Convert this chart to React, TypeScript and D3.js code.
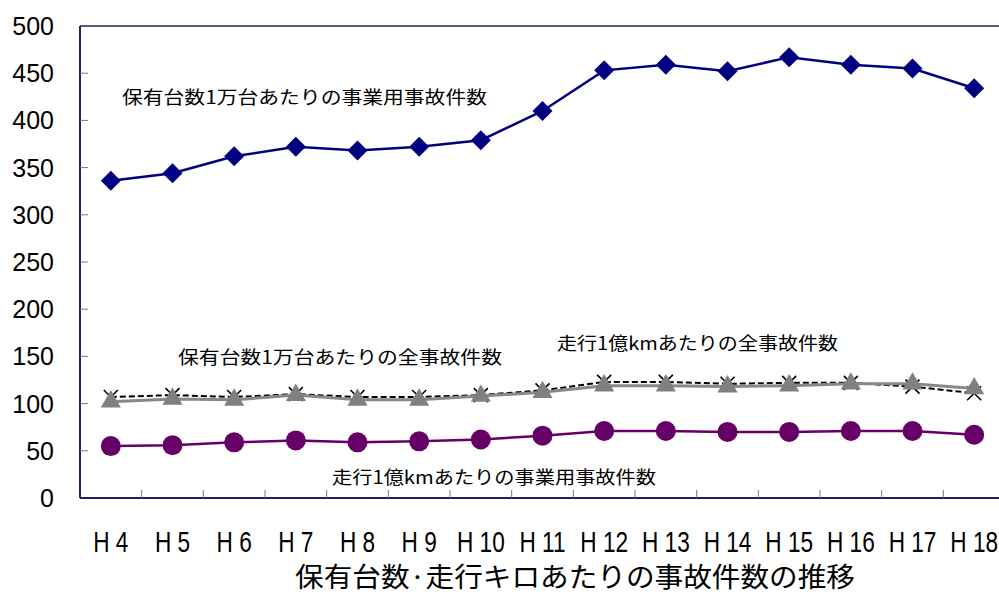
import * as d3 from "d3";

// 年度
const years = ["H4", "H5", "H6", "H7", "H8", "H9", "H10", "H11", "H12", "H13", "H14", "H15", "H16", "H17", "H18"];

// 保有台数1万台あたりの事業用事故件数
const perVehicleBusiness = [336, 344, 362, 372, 368, 372, 379, 410, 453, 459, 452, 467, 459, 455, 434];
// 保有台数1万台あたりの全事故件数
const perVehicleAll = [107, 109, 107, 110, 107, 107, 109, 114, 123, 123, 121, 122, 122, 118, 111];
// 走行1億kmあたりの全事故件数
const perKmAll = [102, 105, 104, 109, 104, 104, 108, 112, 119, 119, 118, 119, 121, 121, 116];
// 走行1億kmあたりの事業用事故件数
const perKmBusiness = [55, 56, 59, 61, 59, 60, 62, 66, 71, 71, 70, 70, 71, 71, 67];

const yTicks = [0, 50, 100, 150, 200, 250, 300, 350, 400, 450, 500];

const W = 999;
const H = 594;
const left = 80;
const right = 1005;
const top = 26;
const bottom = 498;

const jp = "'MS PGothic', 'Noto Sans CJK JP', sans-serif";
const sans = "'Liberation Sans', Arial, sans-serif";
const axisColor = "#22225a";
const squeeze = 0.78;

export default function App() {
    const x = d3.scaleBand<string>().domain(years).range([left, right]);
    const y = d3.scaleLinear().domain([0, 500]).range([bottom, top]);
    const cx = (i: number) => (x(years[i]) || 0) + x.bandwidth() / 2;

    const line = d3.line<number>().x((_, i) => cx(i)).y(d => y(d));

    const diamond = d3.symbol(d3.symbolSquare, 200)();
    const tri = d3.symbol(d3.symbolTriangle, 175)();
    const cross = d3.symbol(d3.symbolX, 130)();

    return (
        <svg width={W} height={H} style={{ position: "absolute", left: 0, top: 0 }}>
            <rect width={W} height={H} fill="#fff" />

            {/* plot frame */}
            <line x1={left} x2={right} y1={top} y2={top} stroke={axisColor} strokeWidth={1.5} />
            <line x1={left} x2={left} y1={top} y2={bottom} stroke={axisColor} strokeWidth={2} />
            <line x1={left} x2={right} y1={bottom} y2={bottom} stroke={axisColor} strokeWidth={2} />

            {/* y ticks */}
            {yTicks.map(t => (
                <g key={t}>
                    {t > 0 && t < 500 && (
                        <line x1={left} x2={left + 8} y1={y(t)} y2={y(t)} stroke="#777" strokeWidth={1} />
                    )}
                    <text x={54} y={y(t)} dy="0.36em" textAnchor="end"
                        fontFamily={sans} fontSize={25} fill="#000">
                        {t}
                    </text>
                </g>
            ))}

            {/* x ticks */}
            {years.slice(1).map(yr => (
                <line key={yr} x1={x(yr)} x2={x(yr)} y1={bottom} y2={bottom - 8} stroke="#777" strokeWidth={1} />
            ))}
            {years.map((yr, i) => (
                <g key={yr} transform={`translate(${cx(i)},552) scale(${squeeze},1)`}>
                    <text x={0} y={0} textAnchor="middle" fontFamily={sans} fontSize={29} fill="#000">
                        {yr.slice(0, 1)}
                        <tspan dx={8}>{yr.slice(1)}</tspan>
                    </text>
                </g>
            ))}

            {/* 全事故件数 (保有台数) */}
            <path d={line(perVehicleAll) || ""} fill="none" stroke="#000" strokeWidth={2} strokeDasharray="6,3" />
            {perVehicleAll.map((v, i) => (
                <path key={i} d={cross || ""} transform={`translate(${cx(i)},${y(v)})`} stroke="#000" strokeWidth={1.6} fill="none" />
            ))}

            {/* 全事故件数 (走行) */}
            <path d={line(perKmAll) || ""} fill="none" stroke="#888" strokeWidth={3} />
            {perKmAll.map((v, i) => (
                <path key={i} d={tri || ""} transform={`translate(${cx(i)},${y(v)})`} fill="#808080" />
            ))}

            {/* 事業用 (走行) */}
            <path d={line(perKmBusiness) || ""} fill="none" stroke="#660066" strokeWidth={2.5} />
            {perKmBusiness.map((v, i) => (
                <circle key={i} cx={cx(i)} cy={y(v)} r={10} fill="#660066" />
            ))}

            {/* 事業用 (保有台数) */}
            <path d={line(perVehicleBusiness) || ""} fill="none" stroke="#000080" strokeWidth={2.5} />
            {perVehicleBusiness.map((v, i) => (
                <path key={i} d={diamond || ""} transform={`translate(${cx(i)},${y(v)}) rotate(45)`} fill="#000080" />
            ))}

            {/* series labels */}
            <text x={122} y={104} fontFamily={jp} fontSize={18} textLength={365} lengthAdjust="spacingAndGlyphs">
                保有台数1万台あたりの事業用事故件数
            </text>
            <text x={178} y={364} fontFamily={jp} fontSize={18} textLength={324} lengthAdjust="spacingAndGlyphs">
                保有台数1万台あたりの全事故件数
            </text>
            <text x={557} y={350} fontFamily={jp} fontSize={18} textLength={281} lengthAdjust="spacingAndGlyphs">
                走行1億kmあたりの全事故件数
            </text>
            <text x={332} y={484} fontFamily={jp} fontSize={18} textLength={324} lengthAdjust="spacingAndGlyphs">
                走行1億kmあたりの事業用事故件数
            </text>

            {/* title */}
            <text x={295} y={587} fontFamily={jp} fontSize={27} textLength={560} lengthAdjust="spacingAndGlyphs">
                保有台数·走行キロあたりの事故件数の推移
            </text>
        </svg>
    );
}
